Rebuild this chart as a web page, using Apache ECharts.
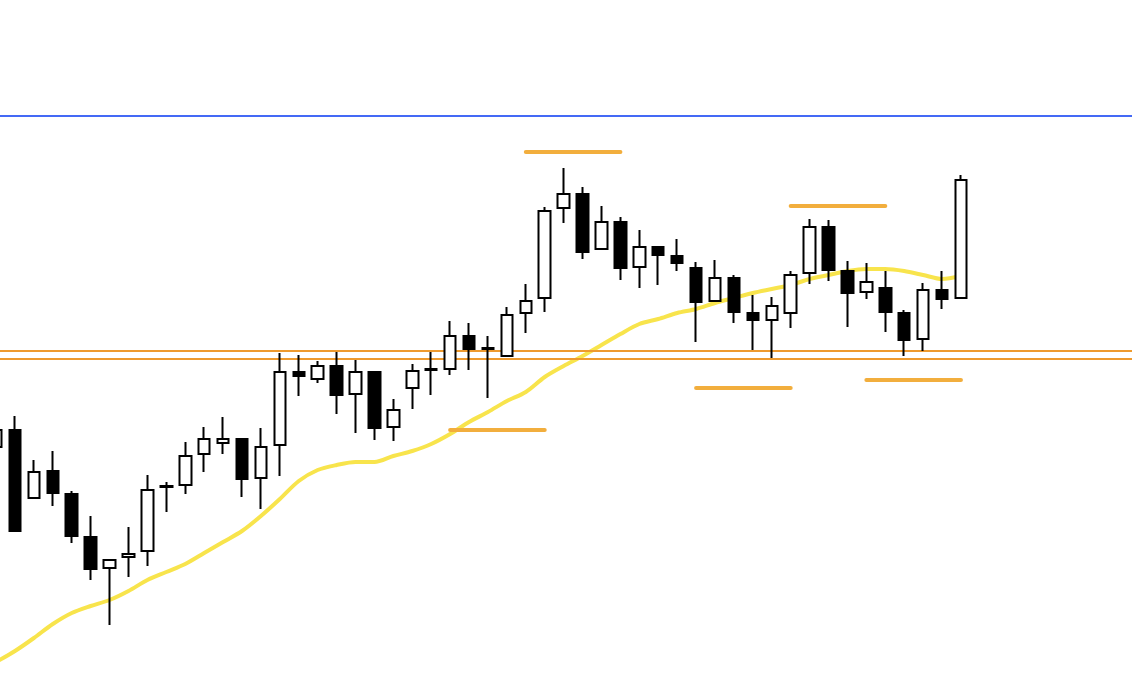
<!DOCTYPE html>
<html>
<head>
<meta charset="utf-8">
<script src="https://cdn.jsdelivr.net/npm/echarts@6/dist/echarts.min.js"></script>
<style>
html,body{margin:0;padding:0;background:#fff;}
#chart{width:1132px;height:700px;}
</style>
</head>
<body>
<div id="chart"></div>
<script>
// Bar index of each candle
const categories = Array.from({length: 52}, (_, i) => i);

// Candle values (price units)
const opens  = [253,270,202,229,206,163,132,143,149,213,215,246,257,261,222,255,328,321,334,306,328,273,312,330,331,364,351,344,387,402,492,506,451,478,433,453,444,432,399,422,387,380,387,427,473,429,408,412,387,361,410,402];
const closes = [270,169,228,207,164,131,140,146,210,214,244,261,261,221,253,328,324,334,305,328,272,290,329,331,364,351,352,385,399,489,506,448,478,432,453,445,437,398,422,388,380,394,425,473,430,407,418,388,360,410,401,520];
const lows   = [253,168,201,194,157,120,75,123,134,188,206,228,246,203,191,224,304,317,286,267,260,259,291,305,325,330,302,343,367,388,477,441,450,420,412,415,429,358,398,377,350,342,372,416,419,373,401,368,344,349,391,401];
const highs  = [270,284,240,249,209,184,141,173,225,218,258,273,283,262,272,347,345,339,348,340,329,301,336,348,379,377,364,393,416,493,532,513,494,483,470,454,461,438,440,425,405,403,429,481,480,439,437,429,390,417,429,525];

// Moving average
const maValues = [38,49,62,76,87,94,100,109,120,128,136,147,158,169,184,201,219,230,235,238,238,244,249,256,266,278,288,299,308,323,334,344,355,366,376,381,387,391,397,402,407,411,415,421,425,429,431,431,429,425,421,424];

// Horizontal levels
const blueLevel = 584;
const orangeLevels = [349, 341];

// Short level segments: [startIndex, endIndex, value]
const segments = [
  [24, 29, 270],
  [28, 33, 548],
  [37, 42, 312],
  [42, 47, 494],
  [46, 51, 320]
];

const candleData = categories.map((x, i) => [x, opens[i], closes[i], lows[i], highs[i]]);
const maData = categories.map((x, i) => [x, maValues[i]]);

const segmentSeries = segments.map(s => ({
  type: 'line',
  data: [[s[0], s[2]], [s[1], s[2]]],
  symbol: 'none',
  lineStyle: {color: '#f2ae3d', width: 4, cap: 'round'},
  z: 4,
  silent: true
}));

const chart = echarts.init(document.getElementById('chart'), null, {renderer: 'canvas'});
chart.setOption({
  animation: false,
  backgroundColor: '#ffffff',
  grid: {left: 0, top: 0, right: 0, bottom: 0},
  xAxis: {type: 'value', min: 0.2083, max: 60.04, show: false},
  yAxis: {type: 'value', min: 0, max: 700, show: false},
  series: [
    {
      type: 'line',
      data: maData,
      symbol: 'none',
      smooth: 0.3,
      lineStyle: {color: '#f8e44c', width: 4},
      z: 2,
      silent: true,
      markLine: {
        silent: true,
        symbol: 'none',
        label: {show: false},
        data: [
          {yAxis: blueLevel, lineStyle: {color: '#4469f5', width: 2, type: 'solid'}},
          {yAxis: orangeLevels[0], lineStyle: {color: '#ee9a2e', width: 2, type: 'solid'}},
          {yAxis: orangeLevels[1], lineStyle: {color: '#ee9a2e', width: 2, type: 'solid'}}
        ]
      }
    },
    {
      type: 'candlestick',
      data: candleData,
      encode: {x: 0, y: [1, 2, 3, 4]},
      barWidth: 12,
      z: 5,
      itemStyle: {
        color: '#ffffff',
        color0: '#000000',
        borderColor: '#000000',
        borderColor0: '#000000',
        borderWidth: 2
      }
    },
    ...segmentSeries
  ]
});
</script>
</body>
</html>
